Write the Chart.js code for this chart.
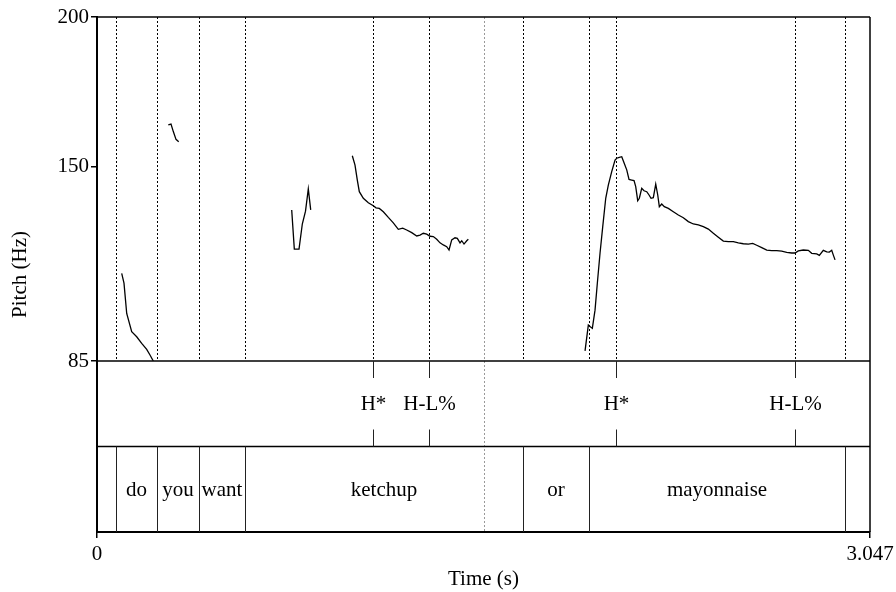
<!DOCTYPE html>
<html>
<head>
<meta charset="utf-8">
<script src="https://cdn.jsdelivr.net/npm/chart.js@4.4.0/dist/chart.umd.min.js"></script>
<style>
    html, body { margin: 0; padding: 0; background: #fff; }
</style>
</head>
<body>
<canvas id="pitchChart" width="896" height="592"></canvas>
<script>
// Axis ranges and ticks
var timeRange = [0, 3.047];
var pitchRange = [85, 200];
var timeTicks = [0, 3.047];
var pitchTicks = [85, 150, 200];

// F0 contour pieces, [time (s), pitch (Hz)]
var seg1 = [[0.0974, 114.3], [0.1064, 111.0], [0.1171, 100.9], [0.1368, 94.8], [0.1565, 93.1],
    [0.1762, 90.9], [0.1959, 88.9], [0.2089, 87.0], [0.2219, 85.0]];
var seg2 = [[0.2811, 163.9], [0.2917, 164.2], [0.3008, 161.7], [0.3114, 159.1], [0.3221, 158.3]];
var seg3 = [[0.7675, 135.5], [0.7778, 122.4], [0.7963, 122.4], [0.8093, 130.8], [0.8219, 135.1],
    [0.8329, 142.5], [0.8424, 135.5]];
var seg4 = [[1.0064, 153.6], [1.0170, 150.5], [1.0261, 145.5], [1.0340, 141.6], [1.0498, 139.4],
    [1.0695, 137.9], [1.0892, 136.9], [1.0998, 136.2], [1.1128, 136.0], [1.1286, 134.9],
    [1.1483, 133.0], [1.1680, 131.2], [1.1877, 129.0], [1.2051, 129.4], [1.2208, 128.8],
    [1.2406, 127.9], [1.2603, 126.8], [1.2733, 127.1], [1.2863, 127.7], [1.2997, 127.4],
    [1.3127, 126.7], [1.3257, 126.6], [1.3391, 125.7], [1.3521, 124.5], [1.3651, 123.8],
    [1.3785, 123.2], [1.3876, 122.1], [1.3982, 125.5], [1.4112, 126.2], [1.4203, 126.0],
    [1.4309, 124.5], [1.4377, 125.2], [1.4467, 124.1], [1.4574, 125.2], [1.4637, 125.7]];
var seg5 = [[1.9237, 88.4], [1.9367, 97.0], [1.9434, 96.5], [1.9525, 95.9], [1.9631, 102.0],
    [1.9722, 111.0], [1.9828, 121.0], [1.9935, 129.9], [2.0053, 139.4], [2.0155, 143.8],
    [2.0289, 148.3], [2.0420, 152.2], [2.0487, 152.8], [2.0589, 153.1], [2.0684, 153.3],
    [2.0774, 151.3], [2.0881, 148.9], [2.0971, 145.7], [2.1078, 145.5], [2.1169, 145.3],
    [2.1235, 143.3], [2.1314, 138.6], [2.1378, 139.4], [2.1472, 142.7], [2.1563, 141.9],
    [2.1669, 141.6], [2.1760, 140.5], [2.1839, 139.4], [2.1929, 139.6], [2.2024, 144.1],
    [2.2103, 140.5], [2.2166, 136.6], [2.2260, 137.5], [2.2363, 136.6], [2.2521, 136.0],
    [2.2718, 134.9], [2.2915, 133.8], [2.3112, 132.9], [2.3309, 131.6], [2.3506, 130.8],
    [2.3703, 130.5], [2.3900, 129.9], [2.4098, 129.1], [2.4295, 127.7], [2.4492, 126.4],
    [2.4689, 125.1], [2.4886, 124.9], [2.5083, 124.9], [2.5280, 124.5], [2.5477, 124.2],
    [2.5674, 124.1], [2.5848, 124.3], [2.6005, 123.7], [2.6203, 122.9], [2.6400, 122.1],
    [2.6597, 121.9], [2.6794, 121.9], [2.6991, 121.7], [2.7188, 121.3], [2.7385, 121.1],
    [2.7515, 121.1], [2.7645, 121.8], [2.7842, 122.1], [2.8039, 122.0], [2.8173, 121.0],
    [2.8370, 120.8], [2.8473, 120.3], [2.8630, 122.0], [2.8765, 121.5], [2.8867, 121.4],
    [2.8961, 122.0], [2.9025, 120.4], [2.9092, 118.8]];
var segments = [seg1, seg2, seg3, seg4, seg5];

// Word tier: boundaries (s) and interval labels (one more label than boundaries)
var wordBounds = [0.0749, 0.2365, 0.4021, 0.5834, 1.6793, 1.9395, 2.9486];
var wordLabels = ['', 'do', 'you', 'want', 'ketchup', 'or', 'mayonnaise', ''];

// Tone tier: point times (s) and labels
var toneTimes = [1.0892, 1.3099, 2.0459, 2.7515];
var toneLabels = ['H*', 'H-L%', 'H*', 'H-L%'];

// Cursor line through all tiers
var cursorTime = 1.5256;

var serif = "'Liberation Serif', 'Times New Roman', serif";
var fontSize = 21;
Chart.defaults.font.family = serif;
Chart.defaults.font.size = fontSize;
Chart.defaults.color = '#000';

function strokeLine(ctx, x1, y1, x2, y2) {
    ctx.beginPath();
    ctx.moveTo(x1, y1);
    ctx.lineTo(x2, y2);
    ctx.stroke();
}

var tierPlugin = {
    id: 'tiers',
    beforeDatasetsDraw: function(chart) {
        var ctx = chart.ctx;
        var xs = chart.scales.x, yp = chart.scales.yPitch, yt = chart.scales.yTier;
        ctx.save();
        //dotted marks in pitch panel
        ctx.strokeStyle = '#000';
        ctx.lineWidth = 1;
        ctx.setLineDash([2, 2]);
        wordBounds.concat(toneTimes).forEach(function(t) {
            var px = Math.round(xs.getPixelForValue(t)) + 0.5;
            strokeLine(ctx, px, yp.top, px, yp.bottom);
        });
        //gray cursor
        ctx.strokeStyle = '#999';
        var cx = Math.round(xs.getPixelForValue(cursorTime)) + 0.5;
        strokeLine(ctx, cx, yp.top, cx, yt.bottom);
        ctx.restore();
    },
    afterDraw: function(chart) {
        var ctx = chart.ctx;
        var xs = chart.scales.x, yp = chart.scales.yPitch, yt = chart.scales.yTier;
        var left = xs.left, right = xs.right;
        var top = yp.top, mid1 = yt.top, mid2 = yt.getPixelForValue(1), bottom = yt.bottom;
        ctx.save();

        //frame and tier separators
        ctx.strokeStyle = '#000';
        ctx.lineWidth = 1.5;
        strokeLine(ctx, left, top, right, top);
        strokeLine(ctx, right, top, right, bottom);
        strokeLine(ctx, left, mid1, right, mid1);
        strokeLine(ctx, left, mid2, right, mid2);

        //tone tier
        ctx.lineWidth = 1;
        ctx.strokeStyle = '#222';
        ctx.fillStyle = '#000';
        ctx.font = fontSize + 'px ' + serif;
        ctx.textAlign = 'center';
        ctx.textBaseline = 'middle';
        var tickLen = 17;
        toneTimes.forEach(function(t, i) {
            var px = Math.round(xs.getPixelForValue(t)) + 0.5;
            strokeLine(ctx, px, mid1, px, mid1 + tickLen);
            strokeLine(ctx, px, mid2 - tickLen, px, mid2);
            ctx.fillText(toneLabels[i], px, (mid1 + mid2) / 2 + 1);
        });

        //word tier
        var edges = [timeRange[0]].concat(wordBounds, [timeRange[1]]);
        wordBounds.forEach(function(t) {
            var px = Math.round(xs.getPixelForValue(t)) + 0.5;
            strokeLine(ctx, px, mid2, px, bottom);
        });
        wordLabels.forEach(function(w, i) {
            if (!w) return;
            var cx = (xs.getPixelForValue(edges[i]) + xs.getPixelForValue(edges[i + 1])) / 2;
            ctx.fillText(w, cx, (mid2 + bottom) / 2 + 1);
        });

        //y title centred on the whole panel
        ctx.translate(20, (top + bottom) / 2);
        ctx.rotate(-Math.PI / 2);
        ctx.fillText('Pitch (Hz)', 0, 0);
        ctx.restore();
    }
};

var ctx = document.getElementById('pitchChart').getContext('2d');
var pitchChart = new Chart(ctx, {
    type: 'line',
    data: {
        datasets: segments.map(function(seg) {
            return {
                data: seg.map(function(p) { return { x: p[0], y: p[1] }; }),
                borderColor: '#000',
                borderWidth: 1.3,
                pointRadius: 0,
                tension: 0,
                fill: false,
                xAxisID: 'x',
                yAxisID: 'yPitch'
            };
        })
    },
    options: {
        responsive: false,
        animation: false,
        events: [],
        layout: { padding: { top: 17, right: 26, left: 0, bottom: 0 } },
        plugins: { legend: { display: false }, tooltip: { enabled: false } },
        scales: {
            x: {
                type: 'linear',
                min: timeRange[0],
                max: timeRange[1],
                afterBuildTicks: function(s) { s.ticks = timeTicks.map(function(v) { return { value: v }; }); },
                afterFit: function(s) {
                    s.height = 60;
                    // let the end label run into the margin instead of shrinking the plot
                    s.paddingLeft = 0;
                    s.paddingRight = 0;
                },
                ticks: { maxRotation: 0, padding: 4, callback: function(v) { return String(v); } },
                grid: { drawOnChartArea: false, tickLength: 6, color: '#000', lineWidth: 1.5 },
                border: { color: '#000', width: 2 },
                title: { display: true, text: 'Time (s)', padding: { top: 0, bottom: 0 } }
            },
            // tiers sit under the pitch panel in the same left stack
            yTier: {
                type: 'linear',
                position: 'left',
                stack: 'panel',
                stackWeight: 171,
                min: 0,
                max: 2,
                afterFit: function(s) { s.width = 97; },
                ticks: { display: false },
                grid: { display: false },
                border: { color: '#000', width: 2 }
            },
            yPitch: {
                type: 'linear',
                position: 'left',
                stack: 'panel',
                stackWeight: 344,
                min: pitchRange[0],
                max: pitchRange[1],
                afterBuildTicks: function(s) { s.ticks = pitchTicks.map(function(v) { return { value: v }; }); },
                afterFit: function(s) { s.width = 97; },
                ticks: { padding: 2, callback: function(v) { return String(v); } },
                grid: { drawOnChartArea: false, tickLength: 6, color: '#000', lineWidth: 1.5 },
                border: { color: '#000', width: 2 }
            }
        }
    },
    plugins: [tierPlugin]
});
</script>
</body>
</html>
